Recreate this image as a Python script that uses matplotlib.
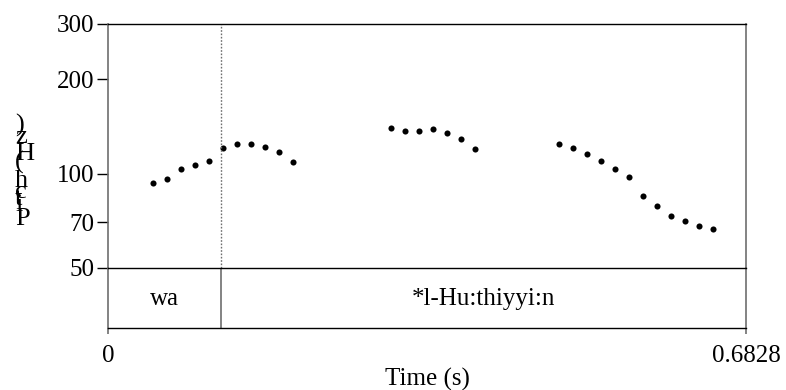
import matplotlib
matplotlib.use("Agg")
import matplotlib.pyplot as plt

# Pitch track (seconds, Hz), three voiced stretches
t_seg1 = [0.048, 0.063, 0.078, 0.093, 0.108, 0.123, 0.138, 0.153, 0.168, 0.183, 0.198]
f_seg1 = [93.1, 96.1, 103.2, 106.5, 109.4, 120.4, 124.5, 124.5, 121.3, 117.4, 108.9]
t_seg2 = [0.303, 0.318, 0.333, 0.348, 0.363, 0.378, 0.393]
f_seg2 = [140.1, 136.7, 136.7, 138.4, 135.0, 128.9, 119.8]
t_seg3 = [0.483, 0.498, 0.513, 0.528, 0.543, 0.558, 0.573, 0.588, 0.603, 0.618, 0.633, 0.648]
f_seg3 = [124.5, 120.7, 115.7, 109.4, 103.2, 97.3, 84.8, 78.6, 73.1, 70.8, 68.0, 66.7]

# Text tier
boundaries = [0.0, 0.1205, 0.6828]
labels = ["wa", "*l-Hu:thiyyi:n"]

y_ticks = [50, 70, 100, 200, 300]
y_tick_labels = ["50", "70", "100", "200", "300"]
x_ticks = [0, 0.6828]
x_tick_labels = ["0", "0.6828"]

W, H = 786, 390
FONT = "Liberation Serif"
FS = 18
GREY = "#6e6e6e"

fig = plt.figure(figsize=(W / 100, H / 100), dpi=100)
fig.patch.set_facecolor("white")

left, right = 108, 746
top, mid, bottom = 24, 268, 328

ax = fig.add_axes([left / W, 1 - mid / H, (right - left) / W, (mid - top) / H])
ax2 = fig.add_axes([left / W, 1 - bottom / H, (right - left) / W, (bottom - mid) / H], sharex=ax)
ax2.patch.set_visible(False)

t_all = t_seg1 + t_seg2 + t_seg3
f_all = f_seg1 + f_seg2 + f_seg3
ax.plot(t_all, f_all, linestyle="none", marker="o", ms=4.4, color="black",
        markeredgewidth=0)

ax.set_yscale("log")
ax.set_ylim(50, 300)
ax.set_xlim(boundaries[0], boundaries[-1])
ax.yaxis.set_major_locator(matplotlib.ticker.FixedLocator(y_ticks))
ax.yaxis.set_major_formatter(matplotlib.ticker.FixedFormatter(y_tick_labels))
ax.yaxis.set_minor_locator(matplotlib.ticker.NullLocator())
ax.tick_params(axis="y", direction="out", length=8, width=1.0, color="black",
               pad=2, labelsize=FS, labelfontfamily=FONT)
ax.tick_params(axis="x", bottom=False, labelbottom=False)
ax.spines["bottom"].set_visible(False)
ax.spines["top"].set_color("black")
ax.spines["top"].set_linewidth(1.0)
for s in ["left", "right"]:
    ax.spines[s].set_color(GREY)
    ax.spines[s].set_linewidth(1.2)

# interval boundary carried up into the pitch panel
for b in boundaries[1:-1]:
    ax.axvline(b, color=GREY, linestyle=(0, (1.2, 1.2)), linewidth=1.0)

# text tier panel
ax2.set_ylim(0, 1)
ax2.set_yticks([])
for s in ["top", "bottom"]:
    ax2.spines[s].set_color("black")
    ax2.spines[s].set_linewidth(1.0)
for s in ["left", "right"]:
    ax2.spines[s].set_color(GREY)
    ax2.spines[s].set_linewidth(1.2)
ax2.set_xticks(x_ticks)
ax2.set_xticklabels(x_tick_labels)
ax2.tick_params(axis="x", direction="out", length=4, width=1.2, color=GREY,
                pad=8, labelsize=FS, labelfontfamily=FONT)
for b in boundaries[1:-1]:
    ax2.axvline(b, color=GREY, linewidth=1.2)
for a, b, lab in zip(boundaries[:-1], boundaries[1:], labels):
    ax2.text((a + b) / 2, 0.48, lab, ha="center", va="center",
             fontsize=FS, family=FONT)

ax2.set_xlabel("Time (s)", fontsize=FS, family=FONT, labelpad=1)

# vertical axis title, glyphs stacked bottom to top
ylab = "Pitch (Hz)"
baselines = [225, 211.4, 204.6, 197.8, 186.9, 174.7, 168.6, 160.4, 142.7, 131.8]
for ch, yb in zip(ylab, baselines):
    if ch == " ":
        continue
    fig.text(15 / W, 1 - yb / H, ch, ha="left", va="baseline",
             fontsize=19, family=FONT)

fig.savefig("out.png", dpi=100, facecolor="white")
